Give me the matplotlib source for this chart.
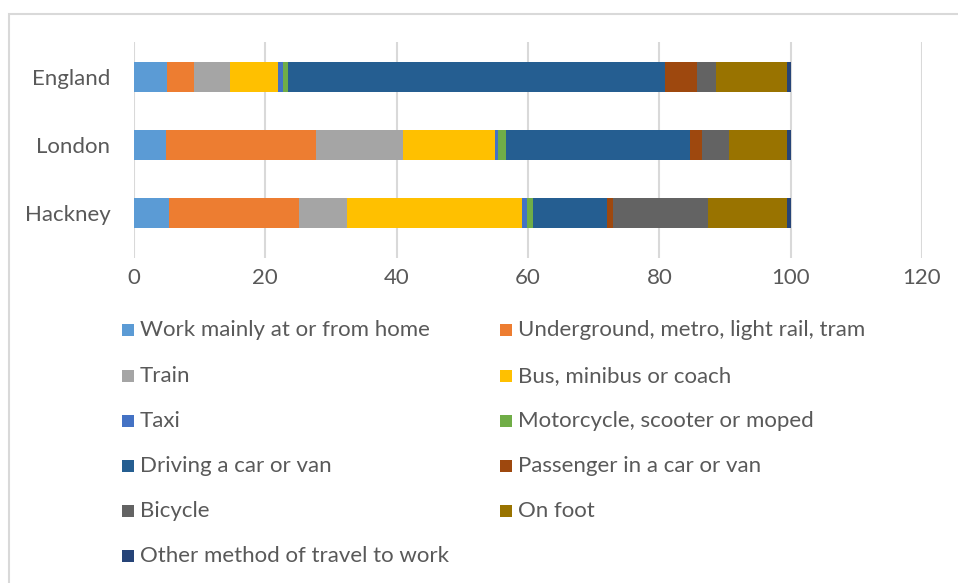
import matplotlib
matplotlib.use("Agg")
import matplotlib.pyplot as plt
from matplotlib.patches import Rectangle
import numpy as np

plt.rcParams['font.family'] = ['Lato', 'DejaVu Sans']

areas = ["Hackney", "London", "England"]
modes = [
    "Work mainly at or from home",
    "Underground, metro, light rail, tram",
    "Train",
    "Bus, minibus or coach",
    "Taxi",
    "Motorcycle, scooter or moped",
    "Driving a car or van",
    "Passenger in a car or van",
    "Bicycle",
    "On foot",
    "Other method of travel to work",
]
# percentage of workers by method, order: Hackney, London, England
work_home   = [5.3, 4.9, 5.1]
underground = [19.8, 22.8, 4.1]
train       = [7.4, 13.2, 5.4]
bus         = [26.6, 14.1, 7.4]
taxi        = [0.7, 0.5, 0.7]
motorcycle  = [0.9, 1.2, 0.7]
driving     = [11.3, 28.0, 57.4]
passenger   = [0.9, 1.8, 4.9]
bicycle     = [14.5, 4.1, 2.9]
on_foot     = [12.0, 8.8, 10.9]
other       = [0.6, 0.6, 0.5]

series = [work_home, underground, train, bus, taxi, motorcycle,
          driving, passenger, bicycle, on_foot, other]
colors = ["#5B9BD5", "#ED7D31", "#A5A5A5", "#FFC000", "#4472C4", "#70AD47",
          "#255E91", "#9E480E", "#636363", "#997300", "#264478"]

W, H = 958, 583
fig = plt.figure(figsize=(W / 100, H / 100), dpi=100)
fig.patch.set_facecolor("white")

# outer chart frame
fig.add_artist(Rectangle((9 / W, -0.1), 1.2, (H - 14) / H + 0.1,
                         transform=fig.transFigure, fill=False,
                         edgecolor="#D9D9D9", linewidth=1.5))

ax = fig.add_axes([134 / W, 1 - 258 / H, 788 / W, (258 - 42) / H])
y = np.arange(len(areas))
left = np.zeros(len(areas))
for vals, col, name in zip(series, colors, modes):
    ax.barh(y, vals, left=left, height=0.44, color=col, label=name, zorder=3)
    left += np.array(vals)

ax.set_xlim(0, 120)
ax.set_ylim(-0.66, 2.51)
ax.set_xticks(np.arange(0, 121, 20))
ax.set_yticks(y)
ax.set_yticklabels(areas)
ax.grid(axis="x", color="#D9D9D9", linewidth=1.5, zorder=0)
ax.set_axisbelow(True)
for s in ax.spines.values():
    s.set_visible(False)
ax.tick_params(axis="both", length=0, labelsize=16, colors="#595959")
ax.tick_params(axis="x", pad=7)
ax.tick_params(axis="y", pad=17)

# legend laid out in two columns, row by row
col_x = [122, 500]
row_y = [330, 376, 421, 466, 511, 556]
for i, (name, col) in enumerate(zip(modes, colors)):
    r, c = divmod(i, 2)
    mx = col_x[c]
    my = row_y[r]
    fig.add_artist(Rectangle((mx / W, 1 - (my + 6) / H), 12 / W, 12 / H,
                             transform=fig.transFigure, facecolor=col,
                             edgecolor="none"))
    fig.text((mx + 18) / W, 1 - my / H, name, fontsize=16, color="#595959",
             va="center", ha="left")

fig.savefig("out.png", dpi=100, facecolor="white")
